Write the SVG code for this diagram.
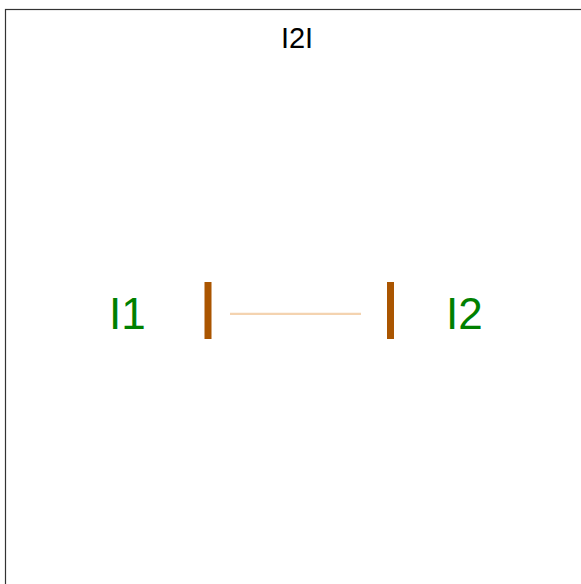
<svg xmlns="http://www.w3.org/2000/svg" width="581" height="584" viewBox="0 0 581 584">
<style>
.lbl{font-family:"Liberation Sans",Arial,sans-serif;fill:#008000;font-size:44px}
.title{font-family:"Liberation Sans",Arial,sans-serif;fill:#000;font-size:29px}
.bar{fill:#aa5500}
</style>
<rect x="0" y="0" width="581" height="584" fill="#fff"/>
<rect x="5.5" y="9.5" width="600" height="600" fill="none" stroke="#333" stroke-width="1.2"/>
<text class="title" x="297" y="48" text-anchor="middle">I2I</text>
<g id="connectors">
<line x1="230" y1="313.8" x2="361" y2="313.8" stroke="#f4d3b0" stroke-width="2.2"/>
</g>
<g id="I1">
<rect class="bar" x="204.5" y="282" width="7" height="57"/>
<text class="lbl" x="109" y="328.5">I1</text>
</g>
<g id="I2">
<rect class="bar" x="387" y="282" width="7" height="57"/>
<text class="lbl" x="446" y="328.5">I2</text>
</g>
</svg>
